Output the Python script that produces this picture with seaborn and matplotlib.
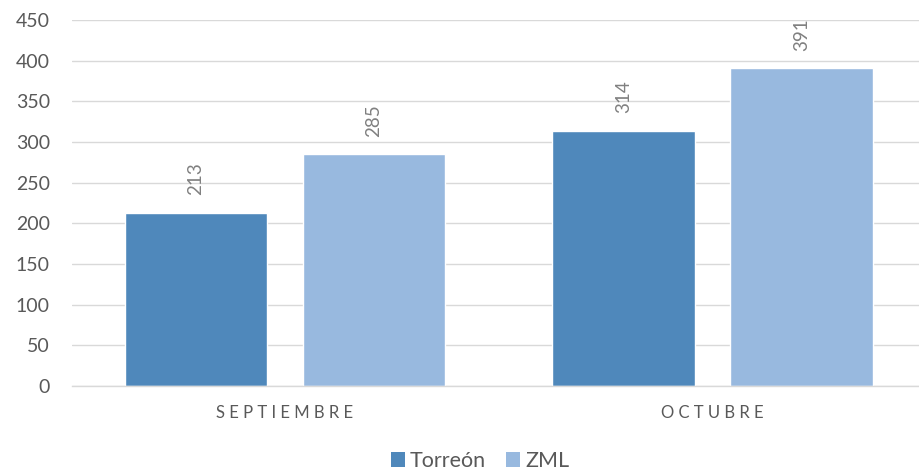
import matplotlib
matplotlib.use("Agg")
import matplotlib.pyplot as plt
import seaborn as sns
import pandas as pd
from matplotlib.patches import Patch

categories = ["SEPTIEMBRE", "OCTUBRE"]
series_names = ["Torreón", "ZML"]
torreon = [213, 314]
zml = [285, 391]
y_ticks = [0, 50, 100, 150, 200, 250, 300, 350, 400, 450]

colors = ["#4F88BB", "#98B9DF"]

df = pd.DataFrame({
    "mes": categories * 2,
    "serie": [series_names[0]] * 2 + [series_names[1]] * 2,
    "valor": torreon + zml,
})

sns.set_theme(style="white")
plt.rcParams['font.family'] = ['Lato', 'DejaVu Sans']

fig = plt.figure(figsize=(9.19, 4.73), dpi=100)
ax = fig.add_axes([72 / 919, 1 - 386 / 473, 847 / 919, 366 / 473])

sns.barplot(data=df, x="mes", y="valor", hue="serie", order=categories,
            hue_order=series_names, palette=colors, width=0.833, gap=0.2,
            saturation=1, ax=ax, legend=False, errorbar=None)

ax.set_ylim(0, 450)
ax.set_xlim(-0.498, 1.483)
ax.set_yticks(y_ticks)
ax.set_yticklabels([str(t) for t in y_ticks], fontsize=14, color="#595959")
ax.yaxis.grid(True, color="#D9D9D9", linewidth=1)
ax.set_axisbelow(True)
for s in ["top", "right", "left"]:
    ax.spines[s].set_visible(False)
ax.spines["bottom"].set_color("#D9D9D9")
ax.spines["bottom"].set_linewidth(1)
ax.tick_params(axis="y", length=0, pad=16)
ax.tick_params(axis="x", length=0, pad=14)
ax.set_xlabel("")
ax.set_ylabel("")

spaced = ["\u2009\u2009".join(list(c)) for c in categories]
ax.set_xticks(range(len(categories)))
ax.set_xticklabels(spaced, fontsize=12, color="#595959")

for cont in ax.containers:
    ax.bar_label(cont, labels=[f"{int(v)}" for v in cont.datavalues],
                 rotation=90, padding=12.5, fontsize=13.5, color="#808080")

handles = [Patch(facecolor=c, edgecolor="none") for c in colors]
fig.legend(handles, series_names, loc="center", bbox_to_anchor=(480 / 919, 1 - 461 / 473),
           ncol=2, frameon=False, fontsize=15.5, handlelength=0.65, handleheight=0.65,
           handletextpad=0.23, columnspacing=0.93, labelcolor="#595959")

fig.savefig("out.png", dpi=100)
